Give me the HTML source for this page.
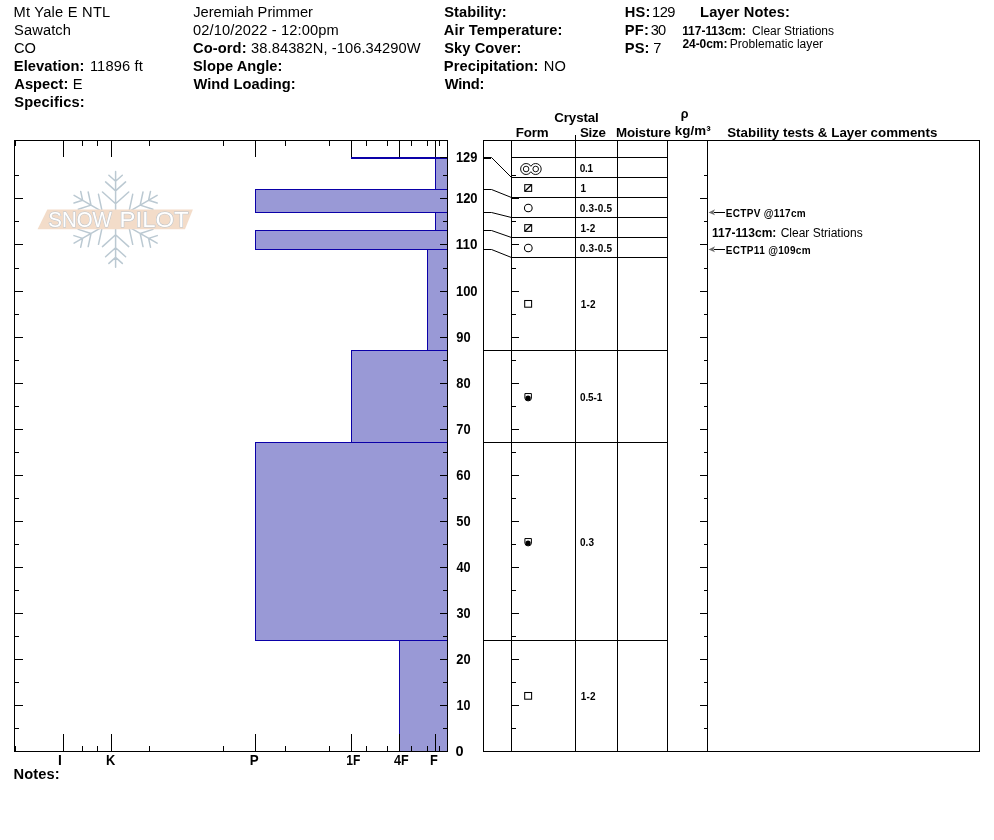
<!DOCTYPE html>
<html><head><meta charset="utf-8"><title>Snow Profile</title>
<style>html,body{margin:0;padding:0;background:#fff;overflow:hidden}svg{display:block;will-change:transform}text{font-family:"Liberation Sans",sans-serif;fill:#000}.b{font-weight:bold}.h{font-size:14.67px}.n{font-size:12px}.s{font-size:10px}.c{font-size:13px}.cr{shape-rendering:crispEdges}.lg text{font-size:22.2px;fill:#fff;stroke:#BCC5CD;stroke-width:1.1px;paint-order:stroke}</style></head><body>
<svg width="994" height="840" viewBox="0 0 994 840">
<rect width="994" height="840" fill="#fff"/>
<g id="logo"><path d="M115.6 216.3L115.6 171.4M115.6 203.8L128.7 192.0M115.6 203.8L102.5 192.0M115.6 190.9L125.6 181.9M115.6 190.9L105.6 181.9M115.6 181.2L122.3 175.2M115.6 181.2L108.9 175.2M118.2 217.8L157.1 195.4M129.0 211.6L145.8 217.0M129.0 211.6L132.7 194.3M140.2 205.1L152.9 209.2M140.2 205.1L143.0 192.0M148.6 200.2L157.2 203.0M148.6 200.2L150.5 191.4M118.2 220.8L157.1 243.2M129.0 227.1L132.7 244.3M129.0 227.1L145.8 221.6M140.2 233.5L143.0 246.6M140.2 233.5L152.9 229.4M148.6 238.4L150.5 247.2M148.6 238.4L157.2 235.6M115.6 222.3L115.6 267.2M115.6 234.8L102.5 246.6M115.6 234.8L128.7 246.6M115.6 247.7L105.6 256.7M115.6 247.7L125.6 256.7M115.6 257.4L108.9 263.4M115.6 257.4L122.3 263.4M113.0 220.8L74.1 243.2M102.2 227.1L85.4 221.6M102.2 227.1L98.5 244.3M91.0 233.5L78.3 229.4M91.0 233.5L88.2 246.6M82.6 238.4L74.0 235.6M82.6 238.4L80.7 247.2M113.0 217.8L74.1 195.4M102.2 211.6L98.5 194.3M102.2 211.6L85.4 217.0M91.0 205.1L88.2 192.0M91.0 205.1L78.3 209.2M82.6 200.2L80.7 191.4M82.6 200.2L74.0 203.0" stroke="#BBC9D2" stroke-width="1.5" stroke-linecap="round" fill="none"/><path d="M47.3 209.6H192.9L185 229.2H37.6Z" fill="#F3DCC9"/><g class="lg"><text x="48.28" y="227.3" textLength="63.55" lengthAdjust="spacingAndGlyphs">SNOW</text><text x="119.62" y="227.3" textLength="68.99" lengthAdjust="spacingAndGlyphs">PILOT</text></g></g>
<rect class="cr" x="435" y="157" width="12" height="32" fill="#9999D6"/>
<rect class="cr" x="435" y="157" width="12" height="1" fill="#0A00A8"/>
<rect class="cr" x="435" y="189" width="12" height="1" fill="#0A00A8"/>
<rect class="cr" x="435" y="157" width="1" height="33" fill="#0A00A8"/>
<rect class="cr" x="255" y="189" width="192" height="23" fill="#9999D6"/>
<rect class="cr" x="255" y="189" width="192" height="1" fill="#0A00A8"/>
<rect class="cr" x="255" y="212" width="192" height="1" fill="#0A00A8"/>
<rect class="cr" x="255" y="189" width="1" height="24" fill="#0A00A8"/>
<rect class="cr" x="435" y="212" width="12" height="18" fill="#9999D6"/>
<rect class="cr" x="435" y="212" width="12" height="1" fill="#0A00A8"/>
<rect class="cr" x="435" y="230" width="12" height="1" fill="#0A00A8"/>
<rect class="cr" x="435" y="212" width="1" height="19" fill="#0A00A8"/>
<rect class="cr" x="255" y="230" width="192" height="19" fill="#9999D6"/>
<rect class="cr" x="255" y="230" width="192" height="1" fill="#0A00A8"/>
<rect class="cr" x="255" y="249" width="192" height="1" fill="#0A00A8"/>
<rect class="cr" x="255" y="230" width="1" height="20" fill="#0A00A8"/>
<rect class="cr" x="427" y="249" width="20" height="101" fill="#9999D6"/>
<rect class="cr" x="427" y="249" width="20" height="1" fill="#0A00A8"/>
<rect class="cr" x="427" y="350" width="20" height="1" fill="#0A00A8"/>
<rect class="cr" x="427" y="249" width="1" height="102" fill="#0A00A8"/>
<rect class="cr" x="351" y="350" width="96" height="92" fill="#9999D6"/>
<rect class="cr" x="351" y="350" width="96" height="1" fill="#0A00A8"/>
<rect class="cr" x="351" y="442" width="96" height="1" fill="#0A00A8"/>
<rect class="cr" x="351" y="350" width="1" height="93" fill="#0A00A8"/>
<rect class="cr" x="255" y="442" width="192" height="198" fill="#9999D6"/>
<rect class="cr" x="255" y="442" width="192" height="1" fill="#0A00A8"/>
<rect class="cr" x="255" y="640" width="192" height="1" fill="#0A00A8"/>
<rect class="cr" x="255" y="442" width="1" height="199" fill="#0A00A8"/>
<rect class="cr" x="399" y="640" width="48" height="111" fill="#9999D6"/>
<rect class="cr" x="399" y="640" width="48" height="1" fill="#0A00A8"/>
<rect class="cr" x="399" y="751" width="48" height="1" fill="#0A00A8"/>
<rect class="cr" x="399" y="640" width="1" height="112" fill="#0A00A8"/>
<rect class="cr" x="351" y="157" width="96" height="2" fill="#0A00A8"/>
<rect class="cr" x="14" y="140" width="434" height="1" fill="#000"/>
<rect class="cr" x="14" y="751" width="434" height="1" fill="#000"/>
<rect class="cr" x="14" y="140" width="1" height="612" fill="#000"/>
<rect class="cr" x="447" y="140" width="1" height="612" fill="#000"/>
<rect class="cr" x="15" y="140" width="1" height="6" fill="#000"/>
<rect class="cr" x="15" y="746" width="1" height="5" fill="#000"/>
<rect class="cr" x="63" y="140" width="1" height="17" fill="#000"/>
<rect class="cr" x="63" y="734" width="1" height="17" fill="#000"/>
<rect class="cr" x="111" y="140" width="1" height="17" fill="#000"/>
<rect class="cr" x="111" y="734" width="1" height="17" fill="#000"/>
<rect class="cr" x="255" y="140" width="1" height="17" fill="#000"/>
<rect class="cr" x="255" y="734" width="1" height="17" fill="#000"/>
<rect class="cr" x="351" y="140" width="1" height="17" fill="#000"/>
<rect class="cr" x="351" y="734" width="1" height="17" fill="#000"/>
<rect class="cr" x="399" y="140" width="1" height="17" fill="#000"/>
<rect class="cr" x="399" y="734" width="1" height="17" fill="#000"/>
<rect class="cr" x="435" y="140" width="1" height="17" fill="#000"/>
<rect class="cr" x="435" y="734" width="1" height="17" fill="#000"/>
<rect class="cr" x="82" y="140" width="1" height="6" fill="#000"/>
<rect class="cr" x="82" y="746" width="1" height="5" fill="#000"/>
<rect class="cr" x="97" y="140" width="1" height="6" fill="#000"/>
<rect class="cr" x="97" y="746" width="1" height="5" fill="#000"/>
<rect class="cr" x="149" y="140" width="1" height="6" fill="#000"/>
<rect class="cr" x="149" y="746" width="1" height="5" fill="#000"/>
<rect class="cr" x="223" y="140" width="1" height="6" fill="#000"/>
<rect class="cr" x="223" y="746" width="1" height="5" fill="#000"/>
<rect class="cr" x="285" y="140" width="1" height="6" fill="#000"/>
<rect class="cr" x="285" y="746" width="1" height="5" fill="#000"/>
<rect class="cr" x="329" y="140" width="1" height="6" fill="#000"/>
<rect class="cr" x="329" y="746" width="1" height="5" fill="#000"/>
<rect class="cr" x="366" y="140" width="1" height="6" fill="#000"/>
<rect class="cr" x="366" y="746" width="1" height="5" fill="#000"/>
<rect class="cr" x="387" y="140" width="1" height="6" fill="#000"/>
<rect class="cr" x="387" y="746" width="1" height="5" fill="#000"/>
<rect class="cr" x="411" y="140" width="1" height="6" fill="#000"/>
<rect class="cr" x="411" y="746" width="1" height="5" fill="#000"/>
<rect class="cr" x="427" y="140" width="1" height="6" fill="#000"/>
<rect class="cr" x="427" y="746" width="1" height="5" fill="#000"/>
<rect class="cr" x="439" y="140" width="1" height="6" fill="#000"/>
<rect class="cr" x="439" y="746" width="1" height="5" fill="#000"/>
<rect class="cr" x="14" y="728" width="5" height="1" fill="#000"/>
<rect class="cr" x="443" y="728" width="4" height="1" fill="#000"/>
<rect class="cr" x="14" y="705" width="9" height="1" fill="#000"/>
<rect class="cr" x="440" y="705" width="7" height="1" fill="#000"/>
<rect class="cr" x="14" y="682" width="5" height="1" fill="#000"/>
<rect class="cr" x="443" y="682" width="4" height="1" fill="#000"/>
<rect class="cr" x="14" y="659" width="9" height="1" fill="#000"/>
<rect class="cr" x="440" y="659" width="7" height="1" fill="#000"/>
<rect class="cr" x="14" y="636" width="5" height="1" fill="#000"/>
<rect class="cr" x="443" y="636" width="4" height="1" fill="#000"/>
<rect class="cr" x="14" y="613" width="9" height="1" fill="#000"/>
<rect class="cr" x="440" y="613" width="7" height="1" fill="#000"/>
<rect class="cr" x="14" y="590" width="5" height="1" fill="#000"/>
<rect class="cr" x="443" y="590" width="4" height="1" fill="#000"/>
<rect class="cr" x="14" y="567" width="9" height="1" fill="#000"/>
<rect class="cr" x="440" y="567" width="7" height="1" fill="#000"/>
<rect class="cr" x="14" y="544" width="5" height="1" fill="#000"/>
<rect class="cr" x="443" y="544" width="4" height="1" fill="#000"/>
<rect class="cr" x="14" y="521" width="9" height="1" fill="#000"/>
<rect class="cr" x="440" y="521" width="7" height="1" fill="#000"/>
<rect class="cr" x="14" y="498" width="5" height="1" fill="#000"/>
<rect class="cr" x="443" y="498" width="4" height="1" fill="#000"/>
<rect class="cr" x="14" y="475" width="9" height="1" fill="#000"/>
<rect class="cr" x="440" y="475" width="7" height="1" fill="#000"/>
<rect class="cr" x="14" y="452" width="5" height="1" fill="#000"/>
<rect class="cr" x="443" y="452" width="4" height="1" fill="#000"/>
<rect class="cr" x="14" y="429" width="9" height="1" fill="#000"/>
<rect class="cr" x="440" y="429" width="7" height="1" fill="#000"/>
<rect class="cr" x="14" y="406" width="5" height="1" fill="#000"/>
<rect class="cr" x="443" y="406" width="4" height="1" fill="#000"/>
<rect class="cr" x="14" y="383" width="9" height="1" fill="#000"/>
<rect class="cr" x="440" y="383" width="7" height="1" fill="#000"/>
<rect class="cr" x="14" y="360" width="5" height="1" fill="#000"/>
<rect class="cr" x="443" y="360" width="4" height="1" fill="#000"/>
<rect class="cr" x="14" y="337" width="9" height="1" fill="#000"/>
<rect class="cr" x="440" y="337" width="7" height="1" fill="#000"/>
<rect class="cr" x="14" y="314" width="5" height="1" fill="#000"/>
<rect class="cr" x="443" y="314" width="4" height="1" fill="#000"/>
<rect class="cr" x="14" y="291" width="9" height="1" fill="#000"/>
<rect class="cr" x="440" y="291" width="7" height="1" fill="#000"/>
<rect class="cr" x="14" y="268" width="5" height="1" fill="#000"/>
<rect class="cr" x="443" y="268" width="4" height="1" fill="#000"/>
<rect class="cr" x="14" y="244" width="9" height="1" fill="#000"/>
<rect class="cr" x="440" y="244" width="7" height="1" fill="#000"/>
<rect class="cr" x="14" y="221" width="5" height="1" fill="#000"/>
<rect class="cr" x="443" y="221" width="4" height="1" fill="#000"/>
<rect class="cr" x="14" y="198" width="9" height="1" fill="#000"/>
<rect class="cr" x="440" y="198" width="7" height="1" fill="#000"/>
<rect class="cr" x="14" y="175" width="5" height="1" fill="#000"/>
<rect class="cr" x="443" y="175" width="4" height="1" fill="#000"/>
<rect class="cr" x="440" y="157" width="7" height="1" fill="#000"/>
<rect class="cr" x="483" y="140" width="497" height="1" fill="#000"/>
<rect class="cr" x="483" y="751" width="497" height="1" fill="#000"/>
<rect class="cr" x="483" y="140" width="1" height="612" fill="#000"/>
<rect class="cr" x="511" y="140" width="1" height="612" fill="#000"/>
<rect class="cr" x="575" y="140" width="1" height="612" fill="#000"/>
<rect class="cr" x="617" y="140" width="1" height="612" fill="#000"/>
<rect class="cr" x="667" y="140" width="1" height="612" fill="#000"/>
<rect class="cr" x="707" y="140" width="1" height="612" fill="#000"/>
<rect class="cr" x="979" y="140" width="1" height="612" fill="#000"/>
<rect class="cr" x="575" y="135" width="1" height="5" fill="#000"/>
<rect class="cr" x="511" y="157" width="156" height="1" fill="#000"/>
<rect class="cr" x="511" y="177" width="156" height="1" fill="#000"/>
<rect class="cr" x="511" y="197" width="156" height="1" fill="#000"/>
<rect class="cr" x="511" y="217" width="156" height="1" fill="#000"/>
<rect class="cr" x="511" y="237" width="156" height="1" fill="#000"/>
<rect class="cr" x="511" y="257" width="156" height="1" fill="#000"/>
<rect class="cr" x="483" y="350" width="184" height="1" fill="#000"/>
<rect class="cr" x="483" y="442" width="184" height="1" fill="#000"/>
<rect class="cr" x="483" y="640" width="184" height="1" fill="#000"/>
<path d="M483.5 157.5 H491.5 L511.5 177.5" stroke="#000" stroke-width="1" fill="none"/>
<path d="M483.5 189.5 H491.5 L511.5 197.5" stroke="#000" stroke-width="1" fill="none"/>
<path d="M483.5 212.5 H491.5 L511.5 217.5" stroke="#000" stroke-width="1" fill="none"/>
<path d="M483.5 230.5 H491.5 L511.5 237.5" stroke="#000" stroke-width="1" fill="none"/>
<path d="M483.5 249.5 H491.5 L511.5 257.5" stroke="#000" stroke-width="1" fill="none"/>
<rect class="cr" x="483" y="157" width="8" height="2" fill="#000"/>
<rect class="cr" x="511" y="728" width="5" height="1" fill="#000"/>
<rect class="cr" x="704" y="728" width="3" height="1" fill="#000"/>
<rect class="cr" x="511" y="705" width="8" height="1" fill="#000"/>
<rect class="cr" x="700" y="705" width="7" height="1" fill="#000"/>
<rect class="cr" x="511" y="682" width="5" height="1" fill="#000"/>
<rect class="cr" x="704" y="682" width="3" height="1" fill="#000"/>
<rect class="cr" x="511" y="659" width="8" height="1" fill="#000"/>
<rect class="cr" x="700" y="659" width="7" height="1" fill="#000"/>
<rect class="cr" x="511" y="636" width="5" height="1" fill="#000"/>
<rect class="cr" x="704" y="636" width="3" height="1" fill="#000"/>
<rect class="cr" x="511" y="613" width="8" height="1" fill="#000"/>
<rect class="cr" x="700" y="613" width="7" height="1" fill="#000"/>
<rect class="cr" x="511" y="590" width="5" height="1" fill="#000"/>
<rect class="cr" x="704" y="590" width="3" height="1" fill="#000"/>
<rect class="cr" x="511" y="567" width="8" height="1" fill="#000"/>
<rect class="cr" x="700" y="567" width="7" height="1" fill="#000"/>
<rect class="cr" x="511" y="544" width="5" height="1" fill="#000"/>
<rect class="cr" x="704" y="544" width="3" height="1" fill="#000"/>
<rect class="cr" x="511" y="521" width="8" height="1" fill="#000"/>
<rect class="cr" x="700" y="521" width="7" height="1" fill="#000"/>
<rect class="cr" x="511" y="498" width="5" height="1" fill="#000"/>
<rect class="cr" x="704" y="498" width="3" height="1" fill="#000"/>
<rect class="cr" x="511" y="475" width="8" height="1" fill="#000"/>
<rect class="cr" x="700" y="475" width="7" height="1" fill="#000"/>
<rect class="cr" x="511" y="452" width="5" height="1" fill="#000"/>
<rect class="cr" x="704" y="452" width="3" height="1" fill="#000"/>
<rect class="cr" x="511" y="429" width="8" height="1" fill="#000"/>
<rect class="cr" x="700" y="429" width="7" height="1" fill="#000"/>
<rect class="cr" x="511" y="406" width="5" height="1" fill="#000"/>
<rect class="cr" x="704" y="406" width="3" height="1" fill="#000"/>
<rect class="cr" x="511" y="383" width="8" height="1" fill="#000"/>
<rect class="cr" x="700" y="383" width="7" height="1" fill="#000"/>
<rect class="cr" x="511" y="360" width="5" height="1" fill="#000"/>
<rect class="cr" x="704" y="360" width="3" height="1" fill="#000"/>
<rect class="cr" x="511" y="337" width="8" height="1" fill="#000"/>
<rect class="cr" x="700" y="337" width="7" height="1" fill="#000"/>
<rect class="cr" x="511" y="314" width="5" height="1" fill="#000"/>
<rect class="cr" x="704" y="314" width="3" height="1" fill="#000"/>
<rect class="cr" x="511" y="291" width="8" height="1" fill="#000"/>
<rect class="cr" x="700" y="291" width="7" height="1" fill="#000"/>
<rect class="cr" x="511" y="268" width="5" height="1" fill="#000"/>
<rect class="cr" x="704" y="268" width="3" height="1" fill="#000"/>
<rect class="cr" x="511" y="244" width="8" height="1" fill="#000"/>
<rect class="cr" x="700" y="244" width="7" height="1" fill="#000"/>
<rect class="cr" x="511" y="221" width="5" height="1" fill="#000"/>
<rect class="cr" x="704" y="221" width="3" height="1" fill="#000"/>
<rect class="cr" x="511" y="198" width="8" height="1" fill="#000"/>
<rect class="cr" x="700" y="198" width="7" height="1" fill="#000"/>
<rect class="cr" x="511" y="175" width="5" height="1" fill="#000"/>
<rect class="cr" x="704" y="175" width="3" height="1" fill="#000"/>
<circle cx="526.1" cy="169.0" r="5.5" fill="none" stroke="#111" stroke-width="1"/>
<circle cx="535.6999999999999" cy="169.0" r="5.5" fill="none" stroke="#111" stroke-width="1"/>
<rect x="528.8" y="166.4" width="4.2" height="5.2" fill="#fff"/>
<circle cx="526.1" cy="169.0" r="2.8" fill="none" stroke="#111" stroke-width="1"/>
<circle cx="535.6999999999999" cy="169.0" r="2.8" fill="none" stroke="#111" stroke-width="1"/>
<rect x="524.75" y="184.65" width="6.9" height="6.7" fill="#fff" stroke="#000" stroke-width="1.05"/>
<path d="M524.90 191.20 L531.50 184.80" stroke="#000" stroke-width="1.25"/>
<circle cx="528.3" cy="208" r="3.85" fill="none" stroke="#000" stroke-width="1.05"/>
<rect x="524.75" y="224.65" width="6.9" height="6.7" fill="#fff" stroke="#000" stroke-width="1.05"/>
<path d="M524.90 231.20 L531.50 224.80" stroke="#000" stroke-width="1.25"/>
<circle cx="528.3" cy="248" r="3.85" fill="none" stroke="#000" stroke-width="1.05"/>
<rect x="524.70" y="300.50" width="6.9" height="6.7" fill="#fff" stroke="#000" stroke-width="1.05"/>
<path d="M524.90 393.55 H531.40 V398.00 A3.25 2.9 0 0 1 524.90 398.00 Z" fill="#fff" stroke="#000" stroke-width="1"/>
<circle cx="528.05" cy="398.05" r="2.65" fill="#000"/>
<path d="M524.90 538.55 H531.40 V543.00 A3.25 2.9 0 0 1 524.90 543.00 Z" fill="#fff" stroke="#000" stroke-width="1"/>
<circle cx="528.05" cy="543.05" r="2.65" fill="#000"/>
<rect x="524.70" y="692.50" width="6.9" height="6.7" fill="#fff" stroke="#000" stroke-width="1.05"/>
<text x="13.55" y="17" style="font-size:14.67px;letter-spacing:0.229px;">Mt Yale E NTL</text>
<text x="14.05" y="35" style="font-size:14.67px;letter-spacing:0.117px;">Sawatch</text>
<text x="14.05" y="53" style="font-size:14.67px;letter-spacing:-0.200px;">CO</text>
<text x="13.80" y="71" style="font-size:14.67px;font-weight:bold;letter-spacing:0.072px;">Elevation:</text>
<text x="89.90" y="71" style="font-size:14.67px;letter-spacing:0.164px;">11896 ft</text>
<text x="14.30" y="89" style="font-size:14.67px;font-weight:bold;letter-spacing:0.042px;">Aspect:</text>
<text x="72.75" y="89" style="font-size:14.67px;">E</text>
<text x="14.30" y="107" style="font-size:14.67px;font-weight:bold;letter-spacing:0.128px;">Specifics:</text>
<text x="193.25" y="17" style="font-size:14.67px;">Jeremiah Primmer</text>
<text x="193.00" y="35" style="font-size:14.67px;letter-spacing:0.121px;">02/10/2022 - 12:00pm</text>
<text x="193.00" y="53" style="font-size:14.67px;font-weight:bold;letter-spacing:0.100px;">Co-ord:</text>
<text x="251.10" y="53" style="font-size:14.67px;letter-spacing:0.074px;">38.84382N, -106.34290W</text>
<text x="193.00" y="71" style="font-size:14.67px;font-weight:bold;letter-spacing:0.036px;">Slope Angle:</text>
<text x="193.50" y="89" style="font-size:14.67px;font-weight:bold;letter-spacing:0.046px;">Wind Loading:</text>
<text x="444.30" y="17" style="font-size:14.67px;font-weight:bold;letter-spacing:0.044px;">Stability:</text>
<text x="443.80" y="35" style="font-size:14.67px;font-weight:bold;letter-spacing:0.113px;">Air Temperature:</text>
<text x="444.30" y="53" style="font-size:14.67px;font-weight:bold;letter-spacing:0.050px;">Sky Cover:</text>
<text x="443.80" y="71" style="font-size:14.67px;font-weight:bold;letter-spacing:0.081px;">Precipitation:</text>
<text x="543.65" y="71" style="font-size:14.67px;letter-spacing:0.300px;">NO</text>
<text x="444.80" y="89" style="font-size:14.67px;font-weight:bold;letter-spacing:-0.237px;">Wind:</text>
<text x="624.80" y="17" style="font-size:14.67px;font-weight:bold;letter-spacing:0.125px;">HS:</text>
<text x="652.10" y="17" style="font-size:14.67px;letter-spacing:-0.525px;">129</text>
<text x="624.80" y="35" style="font-size:14.67px;font-weight:bold;letter-spacing:0.225px;">PF:</text>
<text x="650.70" y="35" style="font-size:14.67px;letter-spacing:-0.750px;">30</text>
<text x="624.80" y="53" style="font-size:14.67px;font-weight:bold;letter-spacing:0.100px;">PS:</text>
<text x="653.15" y="53" style="font-size:14.67px;">7</text>
<text x="700.10" y="17" style="font-size:14.67px;font-weight:bold;letter-spacing:0.086px;">Layer Notes:</text>
<text x="682.15" y="34.6" style="font-size:12px;font-weight:bold;letter-spacing:-0.028px;">117-113cm:</text>
<text x="752.10" y="34.6" style="font-size:12px;letter-spacing:-0.010px;">Clear Striations</text>
<text x="682.40" y="47.8" style="font-size:12px;font-weight:bold;letter-spacing:-0.042px;">24-0cm:</text>
<text x="729.70" y="47.8" style="font-size:12px;letter-spacing:0.044px;">Problematic layer</text>
<text x="13.60" y="778.6" style="font-size:14.67px;font-weight:bold;letter-spacing:0.070px;">Notes:</text>
<text x="554.20" y="121.6" style="font-size:13.33px;font-weight:bold;letter-spacing:-0.092px;">Crystal</text>
<text x="515.85" y="137.2" style="font-size:13.33px;font-weight:bold;letter-spacing:-0.183px;">Form</text>
<text x="580.00" y="137.2" style="font-size:13.33px;font-weight:bold;letter-spacing:-0.283px;">Size</text>
<text x="615.95" y="137.2" style="font-size:13.33px;font-weight:bold;letter-spacing:-0.093px;">Moisture</text>
<text x="680.75" y="118.4" style="font-size:12.5px;font-weight:bold;">ρ</text>
<text x="674.70" y="134.8" style="font-size:13.33px;font-weight:bold;letter-spacing:0.087px;">kg/m³</text>
<text x="727.20" y="137.2" style="font-size:13.33px;font-weight:bold;letter-spacing:0.019px;">Stability tests &amp; Layer comments</text>
<text x="579.75" y="171.7" style="font-size:10px;font-weight:bold;letter-spacing:-0.300px;">0.1</text>
<text x="580.50" y="191.7" style="font-size:10px;font-weight:bold;">1</text>
<text x="579.75" y="211.7" style="font-size:10px;font-weight:bold;letter-spacing:0.192px;">0.3-0.5</text>
<text x="580.50" y="231.7" style="font-size:10px;font-weight:bold;letter-spacing:0.200px;">1-2</text>
<text x="579.75" y="251.7" style="font-size:10px;font-weight:bold;letter-spacing:0.192px;">0.3-0.5</text>
<text x="580.80" y="308.0" style="font-size:10px;font-weight:bold;letter-spacing:0.100px;">1-2</text>
<text x="579.90" y="401.1" style="font-size:10px;font-weight:bold;letter-spacing:-0.075px;">0.5-1</text>
<text x="579.90" y="546.0" style="font-size:10px;font-weight:bold;letter-spacing:0.100px;">0.3</text>
<text x="580.80" y="700.0" style="font-size:10px;font-weight:bold;letter-spacing:0.100px;">1-2</text>
<text x="725.85" y="216.7" style="font-size:10px;font-weight:bold;letter-spacing:0.305px;">ECTPV @117cm</text>
<text x="725.85" y="253.8" style="font-size:10px;font-weight:bold;letter-spacing:0.325px;">ECTP11 @109cm</text>
<text x="712.05" y="236.7" style="font-size:12px;font-weight:bold;letter-spacing:0.028px;">117-113cm:</text>
<text x="780.70" y="236.7" style="font-size:12px;">Clear Striations</text>
<text x="455.60" y="756.15" textLength="8.08" lengthAdjust="spacingAndGlyphs" style="font-size:14.5px;font-weight:bold">0</text>
<text x="456.44" y="710.15" textLength="13.91" lengthAdjust="spacingAndGlyphs" style="font-size:14.5px;font-weight:bold">10</text>
<text x="456.26" y="664.15" textLength="14.31" lengthAdjust="spacingAndGlyphs" style="font-size:14.5px;font-weight:bold">20</text>
<text x="456.48" y="618.15" textLength="14.08" lengthAdjust="spacingAndGlyphs" style="font-size:14.5px;font-weight:bold">30</text>
<text x="456.48" y="572.15" textLength="14.08" lengthAdjust="spacingAndGlyphs" style="font-size:14.5px;font-weight:bold">40</text>
<text x="456.26" y="526.15" textLength="14.31" lengthAdjust="spacingAndGlyphs" style="font-size:14.5px;font-weight:bold">50</text>
<text x="456.26" y="480.15" textLength="14.31" lengthAdjust="spacingAndGlyphs" style="font-size:14.5px;font-weight:bold">60</text>
<text x="456.26" y="434.15" textLength="14.31" lengthAdjust="spacingAndGlyphs" style="font-size:14.5px;font-weight:bold">70</text>
<text x="456.26" y="388.15" textLength="14.31" lengthAdjust="spacingAndGlyphs" style="font-size:14.5px;font-weight:bold">80</text>
<text x="456.26" y="342.15" textLength="14.31" lengthAdjust="spacingAndGlyphs" style="font-size:14.5px;font-weight:bold">90</text>
<text x="455.90" y="296.15" textLength="21.73" lengthAdjust="spacingAndGlyphs" style="font-size:14.5px;font-weight:bold">100</text>
<text x="455.87" y="249.15" textLength="21.74" lengthAdjust="spacingAndGlyphs" style="font-size:14.5px;font-weight:bold">110</text>
<text x="455.90" y="203.15" textLength="21.73" lengthAdjust="spacingAndGlyphs" style="font-size:14.5px;font-weight:bold">120</text>
<text x="455.91" y="162.15" textLength="21.49" lengthAdjust="spacingAndGlyphs" style="font-size:14.5px;font-weight:bold">129</text>
<text x="57.95" y="765.0" textLength="3.83" lengthAdjust="spacingAndGlyphs" style="font-size:14.5px;font-weight:bold">I</text>
<text x="106.01" y="765.0" textLength="9.29" lengthAdjust="spacingAndGlyphs" style="font-size:14.5px;font-weight:bold">K</text>
<text x="249.78" y="765.0" textLength="8.91" lengthAdjust="spacingAndGlyphs" style="font-size:14.5px;font-weight:bold">P</text>
<text x="346.37" y="765.0" textLength="14.08" lengthAdjust="spacingAndGlyphs" style="font-size:14.5px;font-weight:bold">1F</text>
<text x="394.08" y="765.0" textLength="14.68" lengthAdjust="spacingAndGlyphs" style="font-size:14.5px;font-weight:bold">4F</text>
<text x="430.12" y="765.0" textLength="7.82" lengthAdjust="spacingAndGlyphs" style="font-size:14.5px;font-weight:bold">F</text>
<path d="M708.5 212.5 L715 209.3 L713.4 212.5 L715 215.2 Z" fill="#6e6e6e"/>
<rect class="cr" x="714" y="212" width="11" height="1" fill="#000"/>
<path d="M708.5 249.5 L715 246.3 L713.4 249.5 L715 252.2 Z" fill="#6e6e6e"/>
<rect class="cr" x="714" y="249" width="11" height="1" fill="#000"/>
</svg></body></html>
